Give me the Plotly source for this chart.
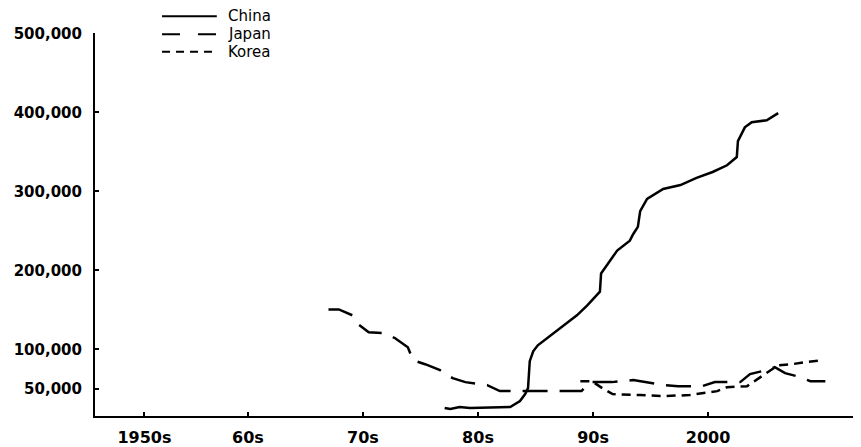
import plotly.graph_objects as go

# ---- data ----
series_names = ["China", "Japan", "Korea"]

china_year = [1977.1, 1977.6, 1978.4, 1979.3, 1982.8, 1983.2, 1983.65, 1984.1, 1984.35, 1984.5,
              1984.8, 1985.2, 1986.0, 1987.1, 1988.6, 1989.5, 1990.35, 1990.6, 1990.7, 1991.2,
              1992.1, 1993.2, 1993.5, 1993.9, 1994.1, 1994.7, 1996.1, 1997.6, 1999.0, 2000.4,
              2001.65, 2002.5, 2002.6, 2003.2, 2003.8, 2005.1, 2006.1]
china_val = [25600, 24300, 26900, 25600, 26900, 30600, 34400, 43300, 50800, 84900,
             97500, 105000, 114000, 126500, 143000, 155500, 168000, 173000, 196000, 206000,
             225000, 237500, 246000, 255000, 275000, 290500, 303000, 308000, 317000, 324500,
             333000, 343400, 363600, 381000, 387500, 390000, 399000]

japan_year = [1967.0, 1967.9, 1969.1, 1969.6, 1970.5, 1971.9, 1972.8, 1973.9, 1974.35, 1975.4,
              1976.7, 1977.8, 1978.9, 1980.2, 1980.8, 1981.9, 1989.0, 1989.7, 1991.65, 1993.5,
              1996.1, 1997.4, 1999.5, 2000.6, 2002.8, 2003.65, 2004.7, 2005.8, 2006.7, 2007.7,
              2008.9, 2010.2]
japan_val = [150400, 150400, 142900, 131600, 121500, 120300, 114000, 102500, 86100, 81100,
             73500, 63400, 58400, 55900, 54600, 47000, 47000, 58400, 58400, 61000,
             54600, 53300, 53300, 58400, 58400, 68500, 72300, 77300, 69700, 66000,
             59600, 59600]

korea_year = [1988.9, 1989.9, 1990.8, 1991.7, 1994.1, 1996.1, 1998.4, 1999.7, 2000.8, 2001.65,
              2003.4, 2004.3, 2005.4, 2006.1, 2007.3, 2008.4, 2010.0]
korea_val = [59600, 59600, 50800, 43300, 42000, 40700, 42000, 44500, 47000, 52000,
             53300, 62200, 72300, 79800, 81100, 83600, 86100]

x_tick_vals = [1951, 1960, 1970, 1980, 1990, 2000]
x_tick_text = ["1950s", "60s", "70s", "80s", "90s", "2000"]
y_tick_vals = [50000, 100000, 200000, 300000, 400000, 500000]
y_tick_text = ["50,000", "100,000", "200,000", "300,000", "400,000", "500,000"]

# ---- styling ----
dashes = ["solid", "25px,12px", "9px,6px"]
legend_dashes = ["solid", "18px,18px", "8px,6px"]

fig = go.Figure()
for name, xs, ys, d in zip(series_names,
                           [china_year, japan_year, korea_year],
                           [china_val, japan_val, korea_val],
                           dashes):
    fig.add_trace(go.Scatter(x=xs, y=ys, mode="lines", name=name,
                             line=dict(color="black", width=2.5, dash=d),
                             showlegend=False))

# manual legend (paper coords)
leg_y = [1.044, 0.997, 0.951]
for name, yy, d in zip(series_names, leg_y, legend_dashes):
    fig.add_shape(type="line", xref="paper", yref="paper",
                  x0=0.0875, x1=0.159, y0=yy, y1=yy,
                  line=dict(color="black", width=2, dash=d))
    fig.add_annotation(xref="paper", yref="paper", x=0.172, y=yy, text=name,
                       showarrow=False, xanchor="left", yanchor="middle", borderpad=0,
                       font=dict(family="DejaVu Sans", size=15, color="black"))

# the page body adds an 8px offset, so the figure is 8px smaller and margins shifted
fig.update_layout(
    width=853, height=439,
    margin=dict(l=87, r=0, t=25, b=29, pad=0),
    paper_bgcolor="white", plot_bgcolor="white",
    showlegend=False,
)
fig.update_xaxes(range=[1946.7, 2013.3], showgrid=False, zeroline=False,
                 showline=True, linecolor="black", linewidth=2,
                 ticks="inside", ticklen=4, tickwidth=2, tickcolor="black",
                 tickvals=x_tick_vals, ticktext=x_tick_text,
                 ticklabelstandoff=6,
                 tickfont=dict(family="DejaVu Sans", size=16, color="black", weight="bold"))
fig.update_yaxes(range=[15500, 500500], showgrid=False, zeroline=False,
                 showline=True, linecolor="black", linewidth=2,
                 ticks="inside", ticklen=4, tickwidth=2, tickcolor="black",
                 tickvals=y_tick_vals, ticktext=y_tick_text,
                 ticklabelstandoff=8,
                 tickfont=dict(family="DejaVu Sans", size=15, color="black", weight="bold"))

fig.write_html("out.html")
